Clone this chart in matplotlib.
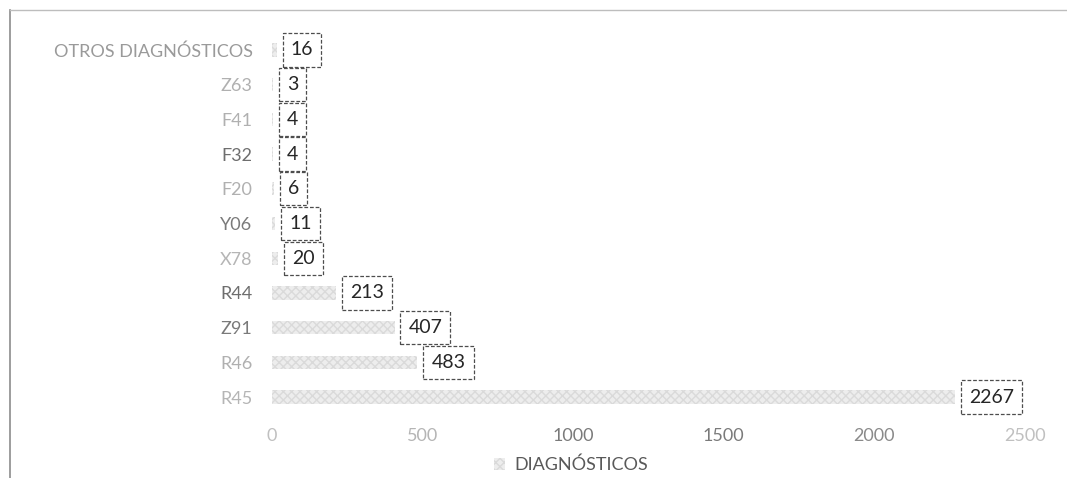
import matplotlib.pyplot as plt
from matplotlib.lines import Line2D

# diagnosis codes, top to bottom as in the chart
codes = ['OTROS DIAGNÓSTICOS', 'Z63', 'F41', 'F32', 'F20', 'Y06', 'X78',
         'R44', 'Z91', 'R46', 'R45']
counts = [16, 3, 4, 4, 6, 11, 20, 213, 407, 483, 2267]
xticks = [0, 500, 1000, 1500, 2000, 2500]

# scanned look: some labels come out lighter than others
code_colors = ['#9a9a9a', '#b0b0b0', '#b0b0b0', '#6e6e6e', '#b0b0b0', '#7a7a7a',
               '#b5b5b5', '#6e6e6e', '#7a7a7a', '#b0b0b0', '#b5b5b5']
tick_colors = ['#c0c0c0', '#b5b5b5', '#7a7a7a', '#7a7a7a', '#8a8a8a', '#c0c0c0']

plt.rcParams['font.family'] = ['Lato', 'DejaVu Sans']

fig = plt.figure(figsize=(10.67, 4.78), dpi=100)
ax = fig.add_axes([0.2549, 0.133, 0.7057, 0.7988])

ypos = list(range(len(codes)))
bars = ax.barh(ypos, counts, height=0.38, color='#ededed', edgecolor='#dadada',
               hatch='xxxx', linewidth=0)

for y, v in zip(ypos, counts):
    ax.annotate(str(v), xy=(v, y), xytext=(10, 0), textcoords='offset points',
                ha='left', va='center', fontsize=14, color='#262626',
                bbox=dict(boxstyle='square,pad=0.42', fc='white', ec='#4d4d4d',
                          lw=0.9, ls=(0, (3, 1.5))))

ax.set_xlim(0, 2500)
ax.set_ylim(len(codes) - 0.5, -0.5)
ax.set_xticks(xticks)
ax.set_xticklabels([str(t) for t in xticks], fontsize=13)
ax.set_yticks(ypos)
ax.set_yticklabels(codes, fontsize=13)
for lab, c in zip(ax.get_yticklabels(), code_colors):
    lab.set_color(c)
for lab, c in zip(ax.get_xticklabels(), tick_colors):
    lab.set_color(c)
ax.tick_params(axis='both', length=0)
ax.tick_params(axis='x', pad=10)
ax.tick_params(axis='y', pad=14)
for s in ax.spines.values():
    s.set_visible(False)
ax.set_axisbelow(True)

# legend below the axis
leg = fig.legend([bars], ['DIAGNÓSTICOS'], loc='center', bbox_to_anchor=(0.535, 0.027),
                 frameon=False, fontsize=13, handlelength=0.6, handleheight=0.6,
                 handletextpad=0.5)
for t in leg.get_texts():
    t.set_color('#595959')

# frame of the scanned chart box
fig.add_artist(Line2D([0.0094, 0.0094], [0.0, 0.979], color='#8c8c8c', lw=1.2,
                      transform=fig.transFigure))
fig.add_artist(Line2D([0.0094, 1.0], [0.979, 0.979], color='#bdbdbd', lw=1.0,
                      transform=fig.transFigure))

plt.savefig('out.png', dpi=100)
